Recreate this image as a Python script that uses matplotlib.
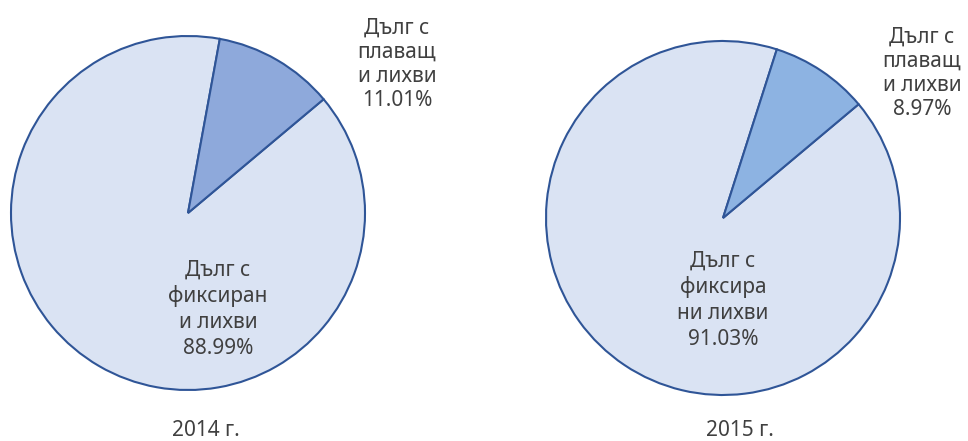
import matplotlib.pyplot as plt

plt.rcParams['font.family'] = ['Noto Sans', 'DejaVu Sans']

years = ["2014 г.", "2015 г."]
shares_fixed = [88.99, 91.03]
shares_floating = [11.01, 8.97]
labels_fixed = ["Дълг с\nфиксиран\nи лихви", "Дълг с\nфиксира\nни лихви"]
labels_floating = ["Дълг с\nплаващ\nи лихви", "Дълг с\nплаващ\nи лихви"]

fill_fixed = "#DAE3F3"
fill_floating = ["#8EA9DB", "#8DB3E2"]
edge = "#2F5597"
text_col = "#404040"

W, H = 968, 441
fig = plt.figure(figsize=(W / 100, H / 100), dpi=100)
ax = fig.add_axes([0, 0, 1, 1])

# pie layout in pixel units
centers = [(188, 213), (723, 218)]
radius = 177
fixed_pos = [(218, 309), (723, 300)]
float_pos = [(397, 64), (922, 73)]
year_pos = [(206, 431), (740, 431)]

for i in range(2):
    cx, cy = centers[i]
    ax.pie([shares_fixed[i], shares_floating[i]],
           colors=[fill_fixed, fill_floating[i]],
           center=(cx, -cy), radius=radius,
           startangle=40, counterclock=False,
           wedgeprops=dict(edgecolor=edge, linewidth=1.5))
    ax.text(fixed_pos[i][0], -fixed_pos[i][1],
            f"{labels_fixed[i]}\n{shares_fixed[i]:.2f}%",
            ha="center", va="center", fontsize=15, color=text_col,
            linespacing=1.3)
    ax.text(float_pos[i][0], -float_pos[i][1],
            f"{labels_floating[i]}\n{shares_floating[i]:.2f}%",
            ha="center", va="center", fontsize=15, color=text_col,
            linespacing=1.2)
    ax.text(year_pos[i][0], -year_pos[i][1], years[i],
            ha="center", va="center", fontsize=15, color=text_col)

ax.set_xlim(0, W)
ax.set_ylim(-H, 0)
ax.set_aspect("auto")
ax.axis("off")

fig.savefig("out.png", dpi=100)
